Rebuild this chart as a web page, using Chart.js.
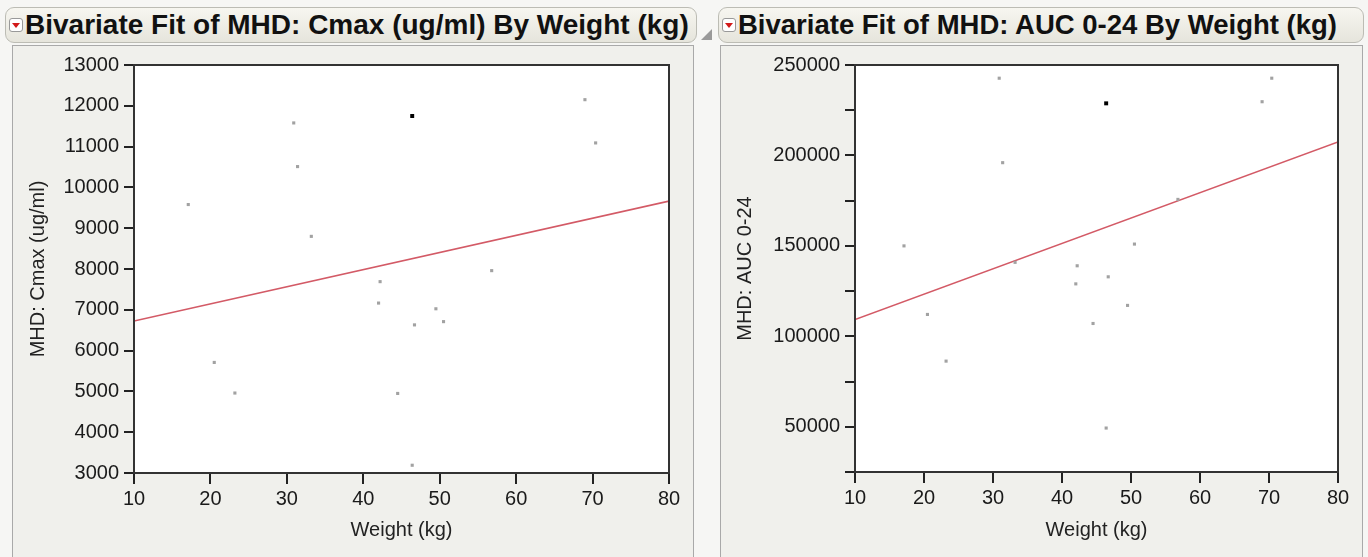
<!DOCTYPE html>
<html>
<head>
<meta charset="utf-8">
<script src="https://cdn.jsdelivr.net/npm/chart.js@4"></script>
<style>
  body { margin:0; width:1368px; height:557px; background:#f6f6f4; position:relative; overflow:hidden; font-family:"Liberation Sans", Arial, sans-serif; }
  .hdr { position:absolute; top:7px; height:36px; border:1px solid #bcbcb4; border-radius:9px; background:linear-gradient(#f7f6f0,#e6e5dc); box-sizing:border-box; }
  .hdr .t { position:absolute; left:19px; top:1px; font-weight:bold; color:#111; white-space:nowrap; }
  .ico { position:absolute; left:3px; top:10px; width:14px; height:14px; background:#fff; border:1px solid #999; border-radius:3px; box-sizing:border-box; }
  .ico::after { content:""; position:absolute; left:1.5px; top:3.5px; border-left:4.5px solid transparent; border-right:4.5px solid transparent; border-top:5.5px solid #d21a1a; }
  .panel { position:absolute; top:45px; height:512px; border:1px solid #a9a9a9; border-bottom:none; background:#f0f0ec; box-sizing:border-box; }
  .tri { position:absolute; left:701px; top:29px; width:0; height:0; border-left:11px solid transparent; border-bottom:11px solid #9a9a9a; }
  canvas { position:absolute; }
</style>
</head>
<body>
<div class="hdr" style="left:5px; width:692px;"><div class="ico"></div><span class="t" style="font-size:28px;">Bivariate Fit of MHD: Cmax (ug/ml) By Weight (kg)</span></div>
<div class="tri"></div>
<div class="hdr" style="left:718px; width:646px;"><div class="ico"></div><span class="t" style="font-size:27.5px;">Bivariate Fit of MHD: AUC 0-24 By Weight (kg)</span></div>
<div class="panel" style="left:12px; width:682px;"></div>
<div class="panel" style="left:720px; width:643px;"></div>
<canvas id="cmaxChart" width="679" height="510" style="left:13px; top:46px;"></canvas>
<canvas id="aucChart" width="640" height="510" style="left:721px; top:46px;"></canvas>
<script>
// rows (same subjects in both)
const weightKg = [17.1, 20.5, 23.2, 30.9, 31.4, 33.2, 42.0, 42.2, 44.5, 46.4, 46.4, 46.7, 49.5, 50.5, 56.8, 69.0, 70.4];
const cmax     = [9580, 5710, 4960, 11580, 10510, 8800, 7165, 7690, 4950, 11750, 3190, 6630, 7025, 6710, 7960, 12150, 11090];
const auc      = [150000, 112100, 86300, 242700, 196000, 140900, 129000, 139000, 107100, 228800, 49300, 132900, 117100, 151000, 175700, 229700, 242700];
const selectedRow = 9;

const xTicks = [10, 20, 30, 40, 50, 60, 70, 80];
const cmaxTicks = [3000, 4000, 5000, 6000, 7000, 8000, 9000, 10000, 11000, 12000, 13000];
const aucTicks = [25000, 50000, 75000, 100000, 125000, 150000, 175000, 200000, 225000, 250000];
const aucLabeled = [50000, 100000, 150000, 200000, 250000];

const FONT = '"Liberation Sans", Arial, sans-serif';

function linFit(xs, ys) {
    const n = xs.length;
    const mx = xs.reduce((a, b) => a + b, 0) / n;
    const my = ys.reduce((a, b) => a + b, 0) / n;
    let sxy = 0, sxx = 0;
    for (let i = 0; i < n; i++) {
        sxy += (xs[i] - mx) * (ys[i] - my);
        sxx += (xs[i] - mx) * (xs[i] - mx);
    }
    const b = sxy / sxx;
    return { a: my - b * mx, b: b };
}

const framePlugin = {
    id: 'frame',
    beforeDatasetsDraw(chart) {
        const { ctx, chartArea: a } = chart;
        ctx.save();
        ctx.fillStyle = '#fff';
        ctx.fillRect(a.left, a.top, a.right - a.left, a.bottom - a.top);
        ctx.restore();
    },
    afterDraw(chart) {
        const { ctx, chartArea: a } = chart;
        ctx.save();
        ctx.strokeStyle = '#333';
        ctx.lineWidth = 2;
        ctx.strokeRect(a.left, a.top, a.right - a.left, a.bottom - a.top);
        ctx.restore();
    }
};

function makeChart(canvasId, ys, yTicks, labelFn, yTitle, yWidth, xHeight, titlePad, padRight) {
    const fit = linFit(weightKg, ys);
    const pts = weightKg.map((w, i) => ({ x: w, y: ys[i] }));
    const colors = weightKg.map((w, i) => i === selectedRow ? '#000' : '#a2a2a2');
    const radii = weightKg.map((w, i) => i === selectedRow ? 2.8 : 2.2);
    const ctx = document.getElementById(canvasId).getContext('2d');
    return new Chart(ctx, {
        type: 'scatter',
        data: {
            datasets: [
                {
                    type: 'line',
                    data: [{ x: xTicks[0], y: fit.a + fit.b * xTicks[0] },
                           { x: xTicks[xTicks.length - 1], y: fit.a + fit.b * xTicks[xTicks.length - 1] }],
                    borderColor: '#d35a66',
                    borderWidth: 1.6,
                    pointRadius: 0,
                    order: 2
                },
                {
                    data: pts,
                    pointStyle: 'rect',
                    pointRadius: radii,
                    pointBackgroundColor: colors,
                    pointBorderWidth: 0,
                    order: 1
                }
            ]
        },
        options: {
            responsive: false,
            animation: false,
            layout: { padding: { top: 19, right: padRight, left: 0, bottom: 0 } },
            plugins: { legend: { display: false }, tooltip: { enabled: false } },
            scales: {
                x: {
                    type: 'linear',
                    min: xTicks[0],
                    max: xTicks[xTicks.length - 1],
                    afterBuildTicks: s => { s.ticks = xTicks.map(v => ({ value: v })); },
                    afterFit: s => { s.height = xHeight; },
                    grid: { drawOnChartArea: false, drawTicks: true, tickLength: 11, color: '#222', lineWidth: 2 },
                    border: { display: true, color: '#333', width: 2 },
                    ticks: { padding: 3, color: '#1a1a1a', font: { size: 20, family: FONT }, maxRotation: 0, callback: v => String(v) },
                    title: { display: true, text: 'Weight (kg)', color: '#222', font: { size: 20, family: FONT }, padding: { top: 0, bottom: 14 } }
                },
                y: {
                    type: 'linear',
                    min: yTicks[0],
                    max: yTicks[yTicks.length - 1],
                    afterBuildTicks: s => { s.ticks = yTicks.map(v => ({ value: v })); },
                    afterFit: s => { s.width = yWidth; },
                    grid: { drawOnChartArea: false, drawTicks: true, tickLength: 10, color: '#222', lineWidth: 2 },
                    border: { display: true, color: '#333', width: 2 },
                    ticks: { padding: 5, color: '#1a1a1a', font: { size: 20, family: FONT }, callback: labelFn },
                    title: { display: true, text: yTitle, color: '#222', font: { size: 20, family: FONT }, padding: { top: titlePad, bottom: 0 } }
                }
            }
        },
        plugins: [framePlugin]
    });
}

makeChart('cmaxChart', cmax, cmaxTicks, v => String(v), 'MHD: Cmax (ug/ml)', 121, 83, 13, 23);
makeChart('aucChart', auc, aucTicks, v => aucLabeled.includes(v) ? String(v) : '', 'MHD: AUC 0-24', 134, 84, 12, 23);
</script>
</body>
</html>
